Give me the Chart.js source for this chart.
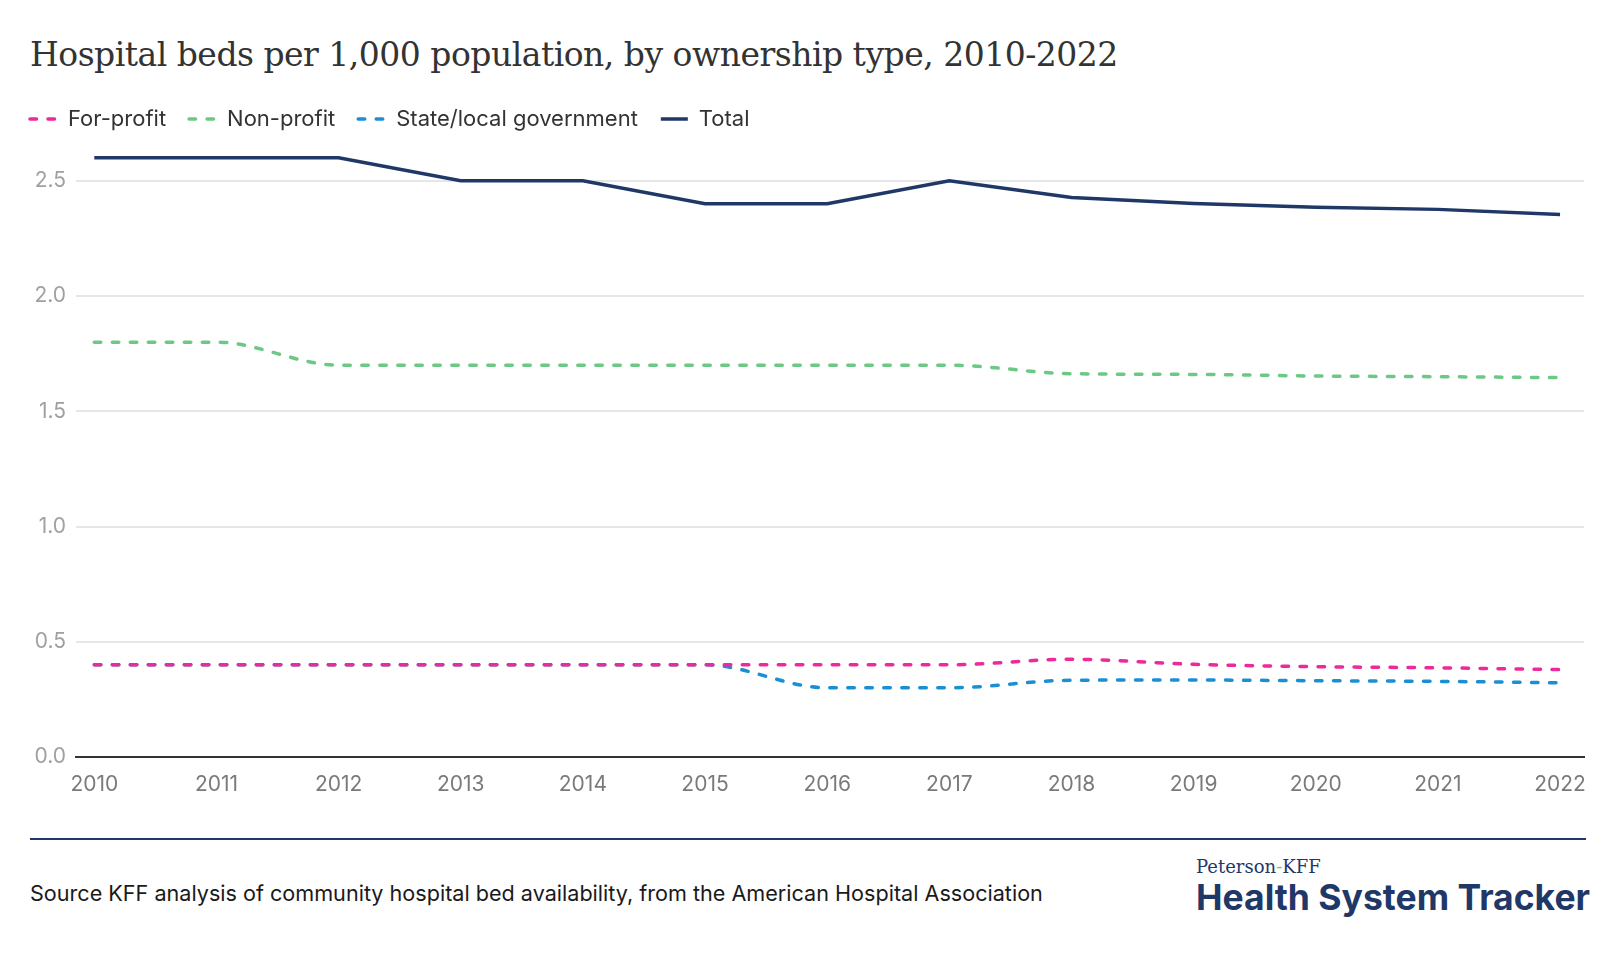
<!DOCTYPE html>
<html>
<head>
<meta charset="utf-8">
<script src="https://cdn.jsdelivr.net/npm/chart.js@4.4.1/dist/chart.umd.min.js"></script>
<style>
  html, body { margin: 0; padding: 0; background: #fff; }
  #page { position: relative; width: 1620px; height: 976px; overflow: hidden; }
  #chartBox { position: absolute; left: 0; top: 0; width: 1620px; height: 830px; }
  .title { position: absolute; left: 30px; top: 38.1px; font: 33px/1 "DejaVu Serif", serif; letter-spacing: -0.5px; color: #333; white-space: nowrap; }
  .rule { position: absolute; left: 30px; top: 837.7px; width: 1556px; height: 2px; background: #1f3868; }
  .source { position: absolute; left: 30px; top: 883px; font: 21.6px/1 Inter, sans-serif; color: #1a1a1a; white-space: nowrap; }
  .brand1 { position: absolute; left: 1196px; top: 858px; font: 18px/1 "DejaVu Serif", serif; color: #1f3868; white-space: nowrap; }
  .brand1 span { color: #6cc985; }
  .brand2 { position: absolute; left: 1196px; top: 880.3px; font: 700 35.5px/1 Inter, sans-serif; color: #1f3868; white-space: nowrap; }
</style>
</head>
<body>
<div id="page">
  <div class="title">Hospital beds per 1,000 population, by ownership type, 2010-2022</div>
  <div id="chartBox"><canvas id="bedsChart"></canvas></div>
  <div class="rule"></div>
  <div class="source">Source KFF analysis of community hospital bed availability, from the American Hospital Association</div>
  <div class="brand1">Peterson<span>-</span>KFF</div>
  <div class="brand2">Health System Tracker</div>
</div>
<script>
// Données
const years = [2010, 2011, 2012, 2013, 2014, 2015, 2016, 2017, 2018, 2019, 2020, 2021, 2022];
const forProfit = [0.4, 0.4, 0.4, 0.4, 0.4, 0.4, 0.4, 0.4, 0.424, 0.402, 0.392, 0.387, 0.379];
const nonProfit = [1.8, 1.8, 1.7, 1.7, 1.7, 1.7, 1.7, 1.7, 1.663, 1.660, 1.653, 1.650, 1.646];
const stateLocal = [0.4, 0.4, 0.4, 0.4, 0.4, 0.4, 0.3, 0.3, 0.333, 0.334, 0.331, 0.328, 0.322];
const total = [2.6, 2.6, 2.6, 2.5, 2.5, 2.4, 2.4, 2.5, 2.428, 2.402, 2.385, 2.376, 2.354];
const yTicks = [0, 0.5, 1.0, 1.5, 2.0, 2.5];

const pts = arr => years.map((yr, i) => ({ x: yr, y: arr[i] }));
const dashed = (label, data, color) => ({
    label: label,
    data: pts(data),
    borderColor: color,
    backgroundColor: color,
    borderWidth: 3.5,
    borderDash: [6.5, 11.5],
    borderCapStyle: 'round',
    cubicInterpolationMode: 'monotone',
    pointRadius: 0,
    fill: false
});

const ctx = document.getElementById('bedsChart').getContext('2d');
new Chart(ctx, {
    type: 'line',
    data: {
        datasets: [
            dashed('For-profit', forProfit, '#ec2a9c'),
            dashed('Non-profit', nonProfit, '#6cc985'),
            dashed('State/local government', stateLocal, '#1a8fd4'),
            {
                label: 'Total',
                data: pts(total),
                borderColor: '#1f3868',
                backgroundColor: '#1f3868',
                borderWidth: 3.5,
                borderCapStyle: 'butt',
                tension: 0,
                pointRadius: 0,
                fill: false
            }
        ]
    },
    options: {
        responsive: true,
        maintainAspectRatio: false,
        animation: false,
        devicePixelRatio: 1,
        events: [],
        layout: { padding: { top: 85, left: 7, right: 36, bottom: 0 } },
        plugins: {
            title: { display: false },
            tooltip: { enabled: false },
            legend: {
                display: true,
                position: 'top',
                align: 'start',
                labels: {
                    usePointStyle: true,
                    pointStyle: 'line',
                    pointStyleWidth: 27,
                    padding: 23,
                    color: '#333',
                    font: { family: 'Inter', size: 22 },
                    // la légende doit reprendre les tirets des séries
                    generateLabels: chart => {
                        const items = Chart.defaults.plugins.legend.labels.generateLabels(chart);
                        items.forEach(it => {
                            const ds = chart.data.datasets[it.datasetIndex];
                            it.lineDash = ds.borderDash || [];
                            it.lineWidth = ds.borderWidth;
                            it.lineCap = ds.borderCapStyle;
                            it.strokeStyle = ds.borderColor;
                        });
                        return items;
                    }
                }
            }
        },
        scales: {
            x: {
                type: 'linear',
                min: 2009.846,
                max: 2022.196,
                afterBuildTicks: axis => { axis.ticks = years.map(v => ({ value: v })); },
                afterFit: axis => { axis.height = 73; },
                grid: { display: false, drawTicks: false },
                border: { display: true, color: '#333', width: 2 },
                ticks: {
                    padding: 15,
                    color: '#7a7a7a',
                    font: { family: 'Inter', size: 21 },
                    maxRotation: 0,
                    autoSkip: false,
                    callback: v => String(v)
                }
            },
            y: {
                min: 0,
                max: 2.677,
                afterBuildTicks: axis => { axis.ticks = yTicks.map(v => ({ value: v })); },
                afterFit: axis => { axis.width = 68.5; },
                grid: { color: '#e6e6e6', lineWidth: 2, drawTicks: false },
                border: { display: false },
                ticks: {
                    padding: 9.5,
                    color: '#a0a0a0',
                    font: { family: 'Inter', size: 21 },
                    callback: v => v.toFixed(1)
                }
            }
        }
    }
});
</script>
</body>
</html>
